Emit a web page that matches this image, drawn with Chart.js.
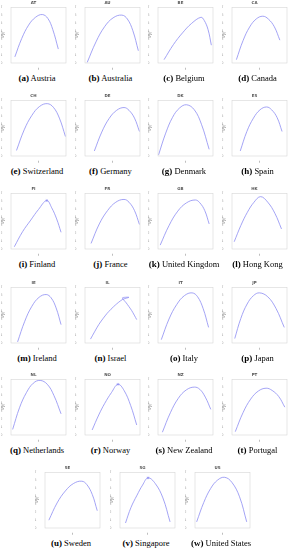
<!DOCTYPE html>
<html>
<head>
<meta charset="utf-8">
<script src="https://cdn.jsdelivr.net/npm/chart.js@4/dist/chart.umd.min.js"></script>
<style>
	body { margin: 0; background: #fff; width: 294px; height: 550px; position: relative; overflow: hidden; }
	.panel { position: absolute; width: 74px; }
	.panel canvas { display: block; }
	.cap { position: absolute; left: -4px; width: 82px; text-align: center; top: 73px;
		font-family: "Liberation Serif", serif; font-size: 8.5px; color: #000; white-space: nowrap; }
	.cap b { font-size: 9px; }
</style>
</head>
<body>
<script>
const codes = ['AT', 'AU', 'BE', 'CA', 'CH', 'DE', 'DK', 'ES', 'FI', 'FR', 'GB', 'HK',
	'IE', 'IL', 'IT', 'JP', 'NL', 'NO', 'NZ', 'PT', 'SE', 'SG', 'US'];
const names = ['Austria', 'Australia', 'Belgium', 'Canada', 'Switzerland', 'Germany', 'Denmark', 'Spain',
	'Finland', 'France', 'United Kingdom', 'Hong Kong', 'Ireland', 'Israel', 'Italy', 'Japan',
	'Netherlands', 'Norway', 'New Zealand', 'Portugal', 'Sweden', 'Singapore', 'United States'];
const letters = 'abcdefghijklmnopqrstuvw'.split('');

// t values (x) and Psi(t) values (y), one row per country
const seriesT = [
	[0.07, 0.195, 0.32, 0.445, 0.57, 0.67, 0.76, 0.86],
	[0.04, 0.2, 0.355, 0.51, 0.67, 0.77, 0.87, 0.97],
	[0.11, 0.28, 0.445, 0.61, 0.78, 0.84, 0.91, 0.97],
	[0.08, 0.2, 0.32, 0.44, 0.56, 0.66, 0.77, 0.87],
	[0.1, 0.24, 0.38, 0.52, 0.66, 0.77, 0.88, 0.99],
	[0.17, 0.305, 0.44, 0.575, 0.71, 0.80, 0.90, 0.99],
	[0.01, 0.14, 0.265, 0.39, 0.52, 0.66, 0.79, 0.93],
	[0.15, 0.27, 0.39, 0.51, 0.63, 0.72, 0.82, 0.91],
	[0.06, 0.21, 0.36, 0.50, 0.65, 0.74, 0.83, 0.91],
	[0.11, 0.26, 0.41, 0.56, 0.71, 0.80, 0.90, 0.99],
	[0.04, 0.2, 0.36, 0.52, 0.68, 0.76, 0.85, 0.93],
	[0.04, 0.16, 0.28, 0.40, 0.52, 0.65, 0.78, 0.90],
	[0.12, 0.25, 0.38, 0.51, 0.64, 0.73, 0.82, 0.91],
	[0.10, 0.25, 0.40, 0.55, 0.68, 0.80, 0.68, 0.75, 0.85, 0.94],
	[0.06, 0.2, 0.34, 0.48, 0.62, 0.72, 0.82, 0.92],
	[0.05, 0.16, 0.275, 0.39, 0.5, 0.65, 0.80, 0.95],
	[0.03, 0.155, 0.28, 0.405, 0.53, 0.66, 0.78, 0.91],
	[0.13, 0.25, 0.36, 0.48, 0.6, 0.71, 0.83, 0.94],
	[0.08, 0.225, 0.37, 0.515, 0.66, 0.76, 0.86, 0.96],
	[0.06, 0.2, 0.34, 0.48, 0.62, 0.73, 0.85, 0.96],
	[0.07, 0.22, 0.37, 0.52, 0.67, 0.76, 0.86, 0.95],
	[0.1, 0.2, 0.31, 0.41, 0.51, 0.64, 0.78, 0.91],
	[0.03, 0.16, 0.285, 0.41, 0.54, 0.67, 0.81, 0.94]
];
const seriesPsi = [
	[0.11, 0.44, 0.68, 0.82, 0.87, 0.80, 0.60, 0.25],
	[0.01, 0.38, 0.65, 0.81, 0.86, 0.79, 0.58, 0.22],
	[0.06, 0.33, 0.54, 0.71, 0.82, 0.765, 0.60, 0.32],
	[0.06, 0.40, 0.645, 0.79, 0.84, 0.79, 0.65, 0.41],
	[0.1, 0.47, 0.73, 0.89, 0.94, 0.875, 0.68, 0.35],
	[0.09, 0.43, 0.675, 0.82, 0.87, 0.82, 0.68, 0.44],
	[0.02, 0.41, 0.695, 0.86, 0.92, 0.83, 0.57, 0.12],
	[0.09, 0.44, 0.68, 0.83, 0.88, 0.83, 0.69, 0.44],
	[0.04, 0.31, 0.52, 0.71, 0.87, 0.74, 0.54, 0.30],
	[0.10, 0.45, 0.69, 0.84, 0.89, 0.84, 0.69, 0.44],
	[0.07, 0.42, 0.68, 0.83, 0.88, 0.83, 0.69, 0.45],
	[0.13, 0.42, 0.66, 0.84, 0.94, 0.84, 0.64, 0.36],
	[0.02, 0.39, 0.66, 0.82, 0.87, 0.81, 0.63, 0.33],
	[0.07, 0.33, 0.53, 0.68, 0.78, 0.82, 0.81, 0.72, 0.58, 0.42],
	[0.06, 0.43, 0.69, 0.85, 0.90, 0.83, 0.62, 0.28],
	[0.08, 0.44, 0.70, 0.85, 0.90, 0.83, 0.62, 0.28],
	[0.10, 0.49, 0.76, 0.93, 0.98, 0.91, 0.71, 0.38],
	[0.09, 0.36, 0.57, 0.76, 0.91, 0.80, 0.53, 0.18],
	[0.05, 0.40, 0.66, 0.81, 0.86, 0.82, 0.68, 0.46],
	[0.06, 0.40, 0.645, 0.79, 0.84, 0.80, 0.69, 0.50],
	[0.14, 0.45, 0.665, 0.80, 0.84, 0.78, 0.60, 0.31],
	[0.09, 0.37, 0.59, 0.77, 0.90, 0.80, 0.54, 0.11],
	[0.11, 0.46, 0.71, 0.86, 0.91, 0.82, 0.56, 0.11]
];
// countries whose peak is marked with a small star
const peakMarked = ['FI', 'NO', 'SG'];

const rowTops = [0, 93, 186, 280, 372, 465];
const colLefts = [0, 73.5, 147, 220.5];
const lastRowLefts = [34, 109, 184];

const lineColor = '#8d8df2';

const boxPlugin = {
	id: 'box',
	afterDraw(chart) {
		const a = chart.chartArea, c = chart.ctx;
		c.save();
		c.strokeStyle = '#d6d6d6';
		c.lineWidth = 0.6;
		c.strokeRect(a.left, a.top, a.right - a.left, a.bottom - a.top);
		c.restore();
	}
};

codes.forEach((code, i) => {
	const row = Math.floor(i / 4);
	const left = row < 5 ? colLefts[i % 4] : lastRowLefts[i % 4];

	const div = document.createElement('div');
	div.className = 'panel';
	div.style.left = left + 'px';
	div.style.top = rowTops[row] + 'px';
	const cv = document.createElement('canvas');
	cv.width = 74;
	cv.height = 71;
	div.appendChild(cv);
	const cap = document.createElement('div');
	cap.className = 'cap';
	cap.innerHTML = '<b>(' + letters[i] + ')</b> ' + names[i];
	div.appendChild(cap);
	document.body.appendChild(div);

	const pts = seriesT[i].map((t, k) => ({x: t, y: seriesPsi[i][k]}));
	const datasets = [{
		data: pts,
		borderColor: lineColor,
		borderWidth: 0.8,
		pointRadius: 0,
		tension: code === 'IL' ? 0.25 : 0.4,
		showLine: true
	}];
	if (peakMarked.includes(code)) {
		const top = pts.reduce((m, p) => p.y > m.y ? p : m, pts[0]);
		datasets.push({
			data: [top],
			pointStyle: 'star',
			pointRadius: 1.4,
			borderColor: lineColor,
			borderWidth: 0.5,
			showLine: false
		});
	}

	const tickFont = {size: 3.5, family: 'DejaVu Sans'};
	new Chart(cv.getContext('2d'), {
		type: 'scatter',
		data: {datasets},
		options: {
			responsive: false,
			animation: false,
			devicePixelRatio: 1,
			layout: {padding: {left: 1, right: 8, top: 0, bottom: 0}},
			plugins: {
				legend: {display: false},
				tooltip: {enabled: false},
				title: {
					display: true,
					text: code,
					color: '#555',
					font: {size: 4, family: 'DejaVu Sans'},
					padding: {top: 1, bottom: 1.5}
				}
			},
			scales: {
				x: {
					min: 0, max: 1,
					grid: {display: false},
					border: {display: false},
					ticks: {stepSize: 0.125, font: tickFont, color: '#999', padding: 0.5, maxRotation: 0,
						autoSkip: false, callback: v => (v * 80).toFixed(0)},
					title: {display: true, text: 't', font: {size: 3.5}, color: '#777', padding: 0},
					afterFit(s) { s.height = 8; }
				},
				y: {
					min: 0, max: 1,
					grid: {display: false},
					border: {display: false},
					ticks: {stepSize: 1 / 7, font: tickFont, color: '#999', padding: 0.5, autoSkip: false,
						callback: v => (v * 7).toFixed(0)},
					title: {display: true, text: 'Ψ(t)', font: {size: 3.5}, color: '#777', padding: 0},
					afterFit(s) { s.width = 10; }
				}
			}
		},
		plugins: [boxPlugin]
	});
});
</script>
</body>
</html>
